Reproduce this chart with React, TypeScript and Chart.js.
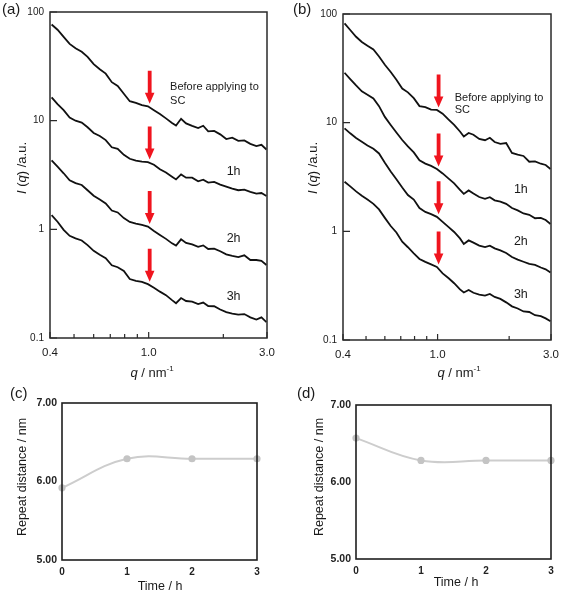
import React, { useEffect, useRef } from 'react';
import { Chart, registerables } from 'chart.js';

Chart.register(...registerables);

const FONT = '"Liberation Sans", Arial, Helvetica, sans-serif';

// ---------- SAXS profiles (panels a, b) ----------
const Q = [0.406, 0.429, 0.454, 0.48, 0.507, 0.537, 0.567, 0.6, 0.635, 0.671, 0.71, 0.75, 0.794, 0.839, 0.888, 0.939, 0.993, 1.05, 1.11, 1.174, 1.242, 1.289, 1.351, 1.415, 1.497, 1.583, 1.659, 1.738, 1.837, 1.943, 2.055, 2.173, 2.298, 2.43, 2.57, 2.718, 2.849, 2.985];

const A_BEFORE = [76.8, 68.7, 59.0, 50.9, 46.3, 43.0, 38.7, 33.1, 29.7, 27.1, 22.6, 20.9, 17.7, 15.1, 14.6, 13.9, 13.55, 12.5, 11.5, 10.5, 9.53, 9.04, 10.4, 9.43, 8.94, 8.54, 8.98, 7.96, 8.05, 7.48, 6.77, 6.97, 6.52, 6.59, 6.12, 5.84, 5.99, 5.42];
const A_1H = [16.4, 14.2, 12.5, 10.7, 10.0, 9.6, 8.7, 7.71, 7.24, 6.62, 5.69, 5.51, 4.85, 4.46, 4.28, 4.2, 4.16, 3.93, 3.57, 3.33, 3.05, 2.88, 3.2, 2.99, 2.99, 2.77, 2.86, 2.69, 2.73, 2.58, 2.47, 2.37, 2.29, 2.32, 2.21, 2.13, 2.16, 2.03];
const A_2H = [4.3, 3.77, 3.28, 2.83, 2.66, 2.56, 2.29, 2.04, 1.88, 1.73, 1.49, 1.43, 1.27, 1.17, 1.13, 1.1, 1.06, 0.967, 0.889, 0.817, 0.743, 0.708, 0.809, 0.75, 0.727, 0.69, 0.712, 0.659, 0.665, 0.628, 0.589, 0.57, 0.556, 0.577, 0.522, 0.522, 0.514, 0.47];
const A_3H = [1.35, 1.175, 0.988, 0.871, 0.826, 0.789, 0.716, 0.634, 0.583, 0.542, 0.467, 0.448, 0.414, 0.349, 0.336, 0.328, 0.313, 0.29, 0.267, 0.248, 0.223, 0.209, 0.233, 0.219, 0.216, 0.205, 0.212, 0.197, 0.196, 0.183, 0.173, 0.168, 0.164, 0.166, 0.155, 0.148, 0.155, 0.14];

const B_BEFORE = [82.1, 71.3, 61.7, 55.3, 51.0, 47.1, 40.6, 34.1, 29.3, 24.8, 20.6, 19.0, 16.8, 14.2, 13.9, 13.2, 13.1, 12.1, 10.7, 9.53, 8.3, 7.46, 8.04, 7.74, 7.08, 6.89, 7.26, 6.64, 6.39, 6.5, 5.26, 5.08, 4.94, 4.37, 4.41, 4.19, 4.08, 3.75];
const B_1H = [28.8, 25.2, 22.0, 19.4, 18.1, 16.7, 14.2, 11.3, 9.53, 8.13, 6.93, 6.04, 5.32, 4.51, 4.2, 4.0, 3.75, 3.41, 3.07, 2.76, 2.41, 2.21, 2.38, 2.23, 2.07, 1.99, 2.06, 1.93, 1.88, 1.79, 1.64, 1.56, 1.46, 1.42, 1.32, 1.33, 1.27, 1.17];
const B_2H = [8.87, 7.98, 7.23, 6.67, 6.17, 5.75, 5.21, 4.28, 3.56, 3.01, 2.53, 2.16, 1.96, 1.64, 1.51, 1.44, 1.36, 1.22, 1.1, 0.987, 0.861, 0.766, 0.825, 0.787, 0.738, 0.716, 0.739, 0.697, 0.667, 0.632, 0.581, 0.549, 0.525, 0.501, 0.491, 0.465, 0.447, 0.418];
const B_3H = [2.86, 2.59, 2.33, 2.13, 1.96, 1.79, 1.59, 1.33, 1.12, 0.977, 0.802, 0.714, 0.627, 0.557, 0.523, 0.496, 0.47, 0.41, 0.372, 0.333, 0.292, 0.274, 0.289, 0.272, 0.262, 0.256, 0.265, 0.249, 0.239, 0.222, 0.204, 0.195, 0.183, 0.181, 0.169, 0.166, 0.158, 0.149];

const Q_TICKS = [0.4, 1.0, 3.0];
const Q_MINOR = [0.5, 0.6, 0.7, 0.8, 0.9, 2.0];
const I_TICKS = [0.1, 1, 10, 100];
const ARROW_Q = 1.0;

// label anchors (q, intensity)
const A_LABELS = [
  { text: 'Before applying to', q: 1.22, v: 20.4, align: 'left' },
  { text: 'SC', q: 1.22, v: 15.1, align: 'left' },
  { text: '1h', q: 2.2, v: 3.37, align: 'center' },
  { text: '2h', q: 2.2, v: 0.826, align: 'center' },
  { text: '3h', q: 2.2, v: 0.241, align: 'center' },
];
const B_LABELS = [
  { text: 'Before applying to', q: 1.18, v: 16.7, align: 'left' },
  { text: 'SC', q: 1.18, v: 13.1, align: 'left' },
  { text: '1h', q: 2.24, v: 2.4, align: 'center' },
  { text: '2h', q: 2.24, v: 0.803, align: 'center' },
  { text: '3h', q: 2.24, v: 0.26, align: 'center' },
];

// ---------- Repeat distance (panels c, d) ----------
const TIME = [0, 1, 2, 3];
const C_REPEAT = [5.92, 6.29, 6.29, 6.29];
const D_REPEAT = [6.57, 6.28, 6.28, 6.28];
const RD_TICKS = [5, 6, 7];

type Part = { t: string; f: string; dy?: number };

function drawRich(ctx: CanvasRenderingContext2D, parts: Part[], x: number, y: number, rot = 0) {
  ctx.save();
  ctx.translate(x, y);
  if (rot) ctx.rotate(rot);
  let w = 0;
  for (const p of parts) {
    ctx.font = p.f;
    w += ctx.measureText(p.t).width;
  }
  let cx = -w / 2;
  ctx.textBaseline = 'middle';
  ctx.textAlign = 'left';
  ctx.fillStyle = '#1a1a1a';
  for (const p of parts) {
    ctx.font = p.f;
    ctx.fillText(p.t, cx, p.dy || 0);
    cx += ctx.measureText(p.t).width;
  }
  ctx.restore();
}

interface SaxsCfg {
  w: number; h: number; yWidth: number; xHeight: number; padTop: number; padRight: number;
  letter: string; letterPos: [number, number];
  yTitle: [number, number]; xTitle: [number, number];
}

function makeSaxs(canvas: HTMLCanvasElement, series: number[][], labels: any[], cfg: SaxsCfg) {
  const framePlugin = {
    id: 'saxsFrame',
    afterDraw(chart: any) {
      const ctx: CanvasRenderingContext2D = chart.ctx;
      const a = chart.chartArea;
      const xs = chart.scales.x;
      const ys = chart.scales.y;
      ctx.save();
      // frame
      ctx.strokeStyle = '#2a2a2a';
      ctx.lineWidth = 1.5;
      ctx.strokeRect(a.left, a.top, a.right - a.left, a.bottom - a.top);
      // inward ticks
      ctx.lineWidth = 1.2;
      ctx.beginPath();
      for (const v of I_TICKS) {
        const y = ys.getPixelForValue(v);
        ctx.moveTo(a.left, y);
        ctx.lineTo(a.left + 7, y);
      }
      for (const v of Q_TICKS) {
        const x = xs.getPixelForValue(v);
        ctx.moveTo(x, a.bottom);
        ctx.lineTo(x, a.bottom - 6);
      }
      for (const v of Q_MINOR) {
        const x = xs.getPixelForValue(v);
        ctx.moveTo(x, a.bottom);
        ctx.lineTo(x, a.bottom - 4);
      }
      ctx.stroke();
      // arrows
      let idx = 0;
      let best = Infinity;
      Q.forEach((q, i) => {
        const d = Math.abs(Math.log(q) - Math.log(ARROW_Q));
        if (d < best) { best = d; idx = i; }
      });
      const xa = xs.getPixelForValue(ARROW_Q) + 1;
      ctx.fillStyle = '#f0141e';
      for (const s of series) {
        const tip = ys.getPixelForValue(s[idx]) - 2.5;
        const headH = 11;
        const len = 33;
        ctx.beginPath();
        ctx.moveTo(xa - 1.9, tip - len);
        ctx.lineTo(xa + 1.9, tip - len);
        ctx.lineTo(xa + 1.9, tip - headH);
        ctx.lineTo(xa + 4.8, tip - headH);
        ctx.lineTo(xa, tip);
        ctx.lineTo(xa - 4.8, tip - headH);
        ctx.lineTo(xa - 1.9, tip - headH);
        ctx.closePath();
        ctx.fill();
      }
      // labels
      ctx.fillStyle = '#1a1a1a';
      ctx.textBaseline = 'middle';
      for (const l of labels) {
        const x = xs.getPixelForValue(l.q);
        const y = ys.getPixelForValue(l.v);
        ctx.textAlign = l.align;
        ctx.font = l.align === 'left' ? `11px ${FONT}` : `12.5px ${FONT}`;
        ctx.fillText(l.text, x, y);
      }
      // panel letter
      ctx.font = `15px ${FONT}`;
      ctx.textAlign = 'left';
      ctx.fillText(cfg.letter, cfg.letterPos[0], cfg.letterPos[1]);
      ctx.restore();
      // axis titles
      drawRich(ctx, [
        { t: 'I', f: `italic 13px ${FONT}` },
        { t: ' (', f: `13px ${FONT}` },
        { t: 'q', f: `italic 13px ${FONT}` },
        { t: ') /a.u.', f: `13px ${FONT}` },
      ], cfg.yTitle[0], cfg.yTitle[1], -Math.PI / 2);
      drawRich(ctx, [
        { t: 'q', f: `italic 13px ${FONT}` },
        { t: ' / nm', f: `13px ${FONT}` },
        { t: '-1', f: `8px ${FONT}`, dy: -4 },
      ], cfg.xTitle[0], cfg.xTitle[1]);
    },
  };

  return new Chart(canvas, {
    type: 'line',
    data: {
      datasets: series.map((s) => ({
        data: Q.map((q, i) => ({ x: q, y: s[i] })),
        borderColor: '#111111',
        borderWidth: 1.8,
        pointRadius: 0,
        tension: 0,
        fill: false,
      })),
    },
    options: {
      animation: false,
      responsive: false,
      maintainAspectRatio: false,
      devicePixelRatio: 1,
      layout: { padding: { left: 0, top: cfg.padTop, right: cfg.padRight, bottom: 0 } },
      plugins: { legend: { display: false }, tooltip: { enabled: false } },
      scales: {
        x: {
          type: 'logarithmic',
          min: 0.4,
          max: 3.0,
          afterBuildTicks: (s: any) => { s.ticks = Q_TICKS.map((v) => ({ value: v })); },
          afterFit: (s: any) => { s.height = cfg.xHeight; },
          ticks: {
            callback: (v: any) => Number(v).toFixed(1),
            font: { family: FONT, size: 11.5 },
            color: '#1a1a1a',
            padding: 8,
            autoSkip: false,
            maxRotation: 0,
          },
          grid: { display: false, drawTicks: false },
          border: { display: false },
        },
        y: {
          type: 'logarithmic',
          min: 0.1,
          max: 100,
          afterBuildTicks: (s: any) => { s.ticks = I_TICKS.map((v) => ({ value: v })); },
          afterFit: (s: any) => { s.width = cfg.yWidth; },
          ticks: {
            callback: (v: any) => String(v),
            font: { family: FONT, size: 10 },
            color: '#1a1a1a',
            padding: 6,
            autoSkip: false,
          },
          grid: { display: false, drawTicks: false },
          border: { display: false },
        },
      },
    },
    plugins: [framePlugin],
  } as any);
}

interface RepCfg {
  yWidth: number; xHeight: number; padTop: number; padRight: number;
  letter: string; letterPos: [number, number];
  yTitle: [number, number]; xTitle: [number, number];
}

function makeRepeat(canvas: HTMLCanvasElement, values: number[], cfg: RepCfg) {
  const framePlugin = {
    id: 'repFrame',
    afterDraw(chart: any) {
      const ctx: CanvasRenderingContext2D = chart.ctx;
      const a = chart.chartArea;
      ctx.save();
      ctx.strokeStyle = '#1e1e1e';
      ctx.lineWidth = 1.6;
      ctx.strokeRect(a.left, a.top, a.right - a.left, a.bottom - a.top);
      ctx.fillStyle = '#1a1a1a';
      ctx.font = `15px ${FONT}`;
      ctx.textAlign = 'left';
      ctx.textBaseline = 'middle';
      ctx.fillText(cfg.letter, cfg.letterPos[0], cfg.letterPos[1]);
      ctx.restore();
      drawRich(ctx, [{ t: 'Repeat distance / nm', f: `12.5px ${FONT}` }], cfg.yTitle[0], cfg.yTitle[1], -Math.PI / 2);
      drawRich(ctx, [{ t: 'Time / h', f: `12.5px ${FONT}` }], cfg.xTitle[0], cfg.xTitle[1]);
    },
  };
  return new Chart(canvas, {
    type: 'line',
    data: {
      datasets: [{
        data: TIME.map((t, i) => ({ x: t, y: values[i] })),
        borderColor: '#cdcdcd',
        borderWidth: 2,
        pointRadius: 3.6,
        pointBackgroundColor: '#c4c4c4',
        pointBorderColor: '#c4c4c4',
        pointBorderWidth: 0,
        tension: 0.4,
        fill: false,
        clip: false,
      }],
    },
    options: {
      animation: false,
      responsive: false,
      maintainAspectRatio: false,
      devicePixelRatio: 1,
      layout: { padding: { left: 0, top: cfg.padTop, right: cfg.padRight, bottom: 0 } },
      plugins: { legend: { display: false }, tooltip: { enabled: false } },
      scales: {
        x: {
          type: 'linear',
          min: 0,
          max: 3,
          afterBuildTicks: (s: any) => { s.ticks = TIME.map((v) => ({ value: v })); },
          afterFit: (s: any) => { s.height = cfg.xHeight; },
          ticks: {
            callback: (v: any) => String(v),
            font: { family: FONT, size: 10, weight: 'bold' },
            color: '#222',
            padding: 6,
            autoSkip: false,
            maxRotation: 0,
          },
          grid: { display: false, drawTicks: false },
          border: { display: false },
        },
        y: {
          type: 'linear',
          min: 5,
          max: 7,
          afterBuildTicks: (s: any) => { s.ticks = RD_TICKS.map((v) => ({ value: v })); },
          afterFit: (s: any) => { s.width = cfg.yWidth; },
          ticks: {
            callback: (v: any) => Number(v).toFixed(2),
            font: { family: FONT, size: 10.5, weight: 'bold' },
            color: '#222',
            padding: 5,
            autoSkip: false,
          },
          grid: { display: false, drawTicks: false },
          border: { display: false },
        },
      },
    },
    plugins: [framePlugin],
  } as any);
}

export default function App() {
  const refA = useRef<HTMLCanvasElement>(null);
  const refB = useRef<HTMLCanvasElement>(null);
  const refC = useRef<HTMLCanvasElement>(null);
  const refD = useRef<HTMLCanvasElement>(null);

  useEffect(() => {
    const charts = [
      makeSaxs(refA.current!, [A_BEFORE, A_1H, A_2H, A_3H], A_LABELS, {
        w: 283, h: 380, yWidth: 50, xHeight: 42, padTop: 10, padRight: 16,
        letter: '(a)', letterPos: [2, 10], yTitle: [22, 168], xTitle: [152, 373],
      }),
      makeSaxs(refB.current!, [B_BEFORE, B_1H, B_2H, B_3H], B_LABELS, {
        w: 284, h: 380, yWidth: 60, xHeight: 40, padTop: 14, padRight: 11,
        letter: '(b)', letterPos: [10, 10], yTitle: [30, 168], xTitle: [176, 373],
      }),
      makeRepeat(refC.current!, C_REPEAT, {
        yWidth: 62, xHeight: 34, padTop: 23, padRight: 26,
        letter: '(c)', letterPos: [10, 14], yTitle: [23, 97], xTitle: [160, 207],
      }),
      makeRepeat(refD.current!, D_REPEAT, {
        yWidth: 73, xHeight: 35, padTop: 25, padRight: 16,
        letter: '(d)', letterPos: [14, 14], yTitle: [37, 97], xTitle: [173, 203],
      }),
    ];
    return () => charts.forEach((c) => c.destroy());
  }, []);

  const cs = (l: number, t: number, w: number, h: number): React.CSSProperties => ({
    position: 'absolute', left: l, top: t, width: w, height: h,
  });

  return (
    <div style={{ position: 'absolute', left: 0, top: 0, width: 567, height: 594, background: '#ffffff', overflow: 'hidden' }}>
      <canvas ref={refA} width={283} height={380} style={cs(0, 0, 283, 380)} />
      <canvas ref={refB} width={284} height={380} style={cs(283, 0, 284, 380)} />
      <canvas ref={refC} width={283} height={214} style={cs(0, 380, 283, 214)} />
      <canvas ref={refD} width={284} height={214} style={cs(283, 380, 284, 214)} />
    </div>
  );
}
